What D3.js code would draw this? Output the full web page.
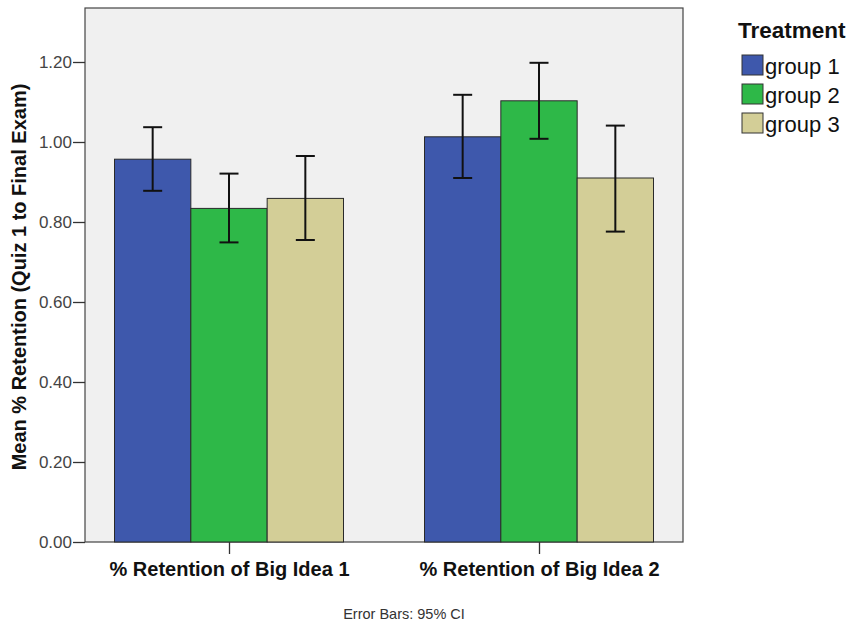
<!DOCTYPE html>
<html>
<head>
<meta charset="utf-8">
<script src="https://cdn.jsdelivr.net/npm/d3@7"></script>
<style>
  body { margin: 0; background: #fff; }
  svg { display: block; font-family: Arial, "Liberation Sans", sans-serif; }
</style>
</head>
<body>
<svg id="chart" width="859" height="625"></svg>
<script>
// Measures and groups
const categories = ["% Retention of Big Idea 1", "% Retention of Big Idea 2"];
const groups = ["group 1", "group 2", "group 3"];
const groupColors = ["#3E58AC", "#2EB848", "#D3CE97"];

// Mean retention per group, one array per measure
const means1 = [0.957, 0.834, 0.859];
const means2 = [1.013, 1.103, 0.910];
// 95% CI bounds
const lower1 = [0.878, 0.749, 0.755];
const upper1 = [1.037, 0.921, 0.965];
const lower2 = [0.910, 1.008, 0.776];
const upper2 = [1.118, 1.198, 1.041];

const yTicks = [0, 0.2, 0.4, 0.6, 0.8, 1.0, 1.2];

const rows = [
  { cat: categories[0], means: means1, lo: lower1, hi: upper1 },
  { cat: categories[1], means: means2, lo: lower2, hi: upper2 }
];

const FONT = "Arial, 'Liberation Sans', sans-serif";
const svg = d3.select("#chart");
const plot = { left: 85, right: 683, top: 8, bottom: 542 };

const y = d3.scaleLinear().domain([0, 1.335]).range([plot.bottom, plot.top]);
const x = d3.scalePoint().domain(categories).range([229, 539]);
const xg = d3.scaleBand().domain(groups).range([-114.5, 114.5]).padding(0);

// Plot background and frame
svg.append("rect")
  .attr("x", plot.left).attr("y", plot.top)
  .attr("width", plot.right - plot.left).attr("height", plot.bottom - plot.top)
  .attr("fill", "#F0F0F0").attr("stroke", "#444").attr("stroke-width", 1.2);

// Bars
const bars = svg.append("g");
rows.forEach(r => {
  groups.forEach((g, i) => {
    bars.append("rect")
      .attr("x", x(r.cat) + xg(g))
      .attr("y", y(r.means[i]))
      .attr("width", xg.bandwidth())
      .attr("height", y(0) - y(r.means[i]))
      .attr("fill", groupColors[i])
      .attr("stroke", "#2a2a2a").attr("stroke-width", 1);
  });
});

// Error bars
const err = svg.append("g").attr("stroke", "#111").attr("stroke-width", 2).attr("fill", "none");
rows.forEach(r => {
  groups.forEach((g, i) => {
    const cx = x(r.cat) + xg(g) + xg.bandwidth() / 2;
    err.append("line").attr("x1", cx).attr("x2", cx).attr("y1", y(r.hi[i])).attr("y2", y(r.lo[i]));
    err.append("line").attr("x1", cx - 9.5).attr("x2", cx + 9.5).attr("y1", y(r.hi[i])).attr("y2", y(r.hi[i]));
    err.append("line").attr("x1", cx - 9.5).attr("x2", cx + 9.5).attr("y1", y(r.lo[i])).attr("y2", y(r.lo[i]));
  });
});

// Y axis
const yAxis = svg.append("g")
  .attr("transform", `translate(${plot.left},0)`)
  .call(d3.axisLeft(y).tickValues(yTicks).tickFormat(d3.format(".2f")).tickSize(12).tickPadding(1));
yAxis.select(".domain").remove();
yAxis.selectAll(".tick line").attr("stroke", "#333").attr("stroke-width", 1.3);
yAxis.selectAll(".tick text").attr("fill", "#444").attr("font-size", 17)
  .attr("font-family", FONT).attr("dy", "0.35em");

// X axis
const xAxis = svg.append("g")
  .attr("transform", `translate(0,${plot.bottom})`)
  .call(d3.axisBottom(x).tickSize(12).tickPadding(8));
xAxis.select(".domain").remove();
xAxis.selectAll(".tick line").attr("stroke", "#333").attr("stroke-width", 1.3);
xAxis.selectAll(".tick text").attr("fill", "#111").attr("font-size", 20)
  .attr("font-weight", "bold").attr("font-family", FONT);

// Y title
svg.append("text")
  .attr("transform", `translate(26,${(plot.top + plot.bottom) / 2 + 2}) rotate(-90)`)
  .attr("text-anchor", "middle")
  .attr("font-size", 20).attr("font-weight", "bold").attr("fill", "#111")
  .text("Mean % Retention (Quiz 1 to Final Exam)");

// Footnote
svg.append("text")
  .attr("x", 404).attr("y", 619).attr("text-anchor", "middle")
  .attr("font-size", 14.5).attr("fill", "#333")
  .text("Error Bars: 95% CI");

// Legend
const legend = svg.append("g");
legend.append("text")
  .attr("x", 738).attr("y", 38)
  .attr("font-size", 22.5).attr("font-weight", "bold").attr("fill", "#111")
  .text("Treatment");
groups.forEach((g, i) => {
  const ly = 55 + i * 29;
  legend.append("rect")
    .attr("x", 742).attr("y", ly).attr("width", 21).attr("height", 20)
    .attr("fill", groupColors[i]).attr("stroke", "#333").attr("stroke-width", 1);
  legend.append("text")
    .attr("x", 765).attr("y", ly + 19)
    .attr("font-size", 22).attr("fill", "#111")
    .text(g);
});
</script>
</body>
</html>
